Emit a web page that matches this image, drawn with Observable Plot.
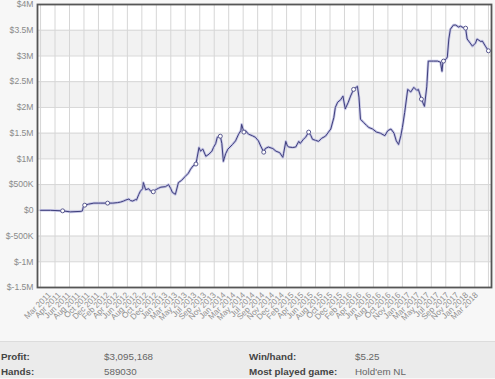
<!DOCTYPE html>
<html>
<head>
<meta charset="utf-8">
<script src="https://cdn.jsdelivr.net/npm/d3@7"></script>
<script src="https://cdn.jsdelivr.net/npm/@observablehq/plot@0.6"></script>
<style>
  html, body { margin: 0; padding: 0; background: #f7f7f7; }
  #chart { width: 495px; height: 341px; }
  #stats { width: 495px; height: 37px; background: #ebebeb; border-top: 1px solid #dcdcdc;
           box-sizing: border-box; padding-top: 7px; font-family: "Liberation Sans", Arial, sans-serif; font-size: 9.8px; }
  .row { position: relative; height: 15px; line-height: 15px; }
  .row span { position: absolute; top: 0; white-space: nowrap; }
  .k { font-weight: bold; color: #444; }
  .v { color: #666; }
</style>
</head>
<body>
<div id="chart"></div>
<div id="stats"></div>
<script>
// cumulative profit ($M) against hands played (thousands)
const hands = [0,13,29,39,53,55,56,58,63,70,79,88,95,101,105,109,112,116,118,121,125,126,129,131,134,135,138,142,144,148,151,155,158,164,168,171,173,177,181,185,190,194,197,200,204,208,210,213,217,221,225,227,230,232,236,238,240,243,246,250,252,256,260,263,264,267,269,273,278,282,286,289,293,295,299,305,309,314,318,319,322,324,326,331,335,339,341,345,348,352,355,357,361,365,369,374,378,381,385,387,390,394,397,400,404,407,411,416,418,420,424,428,431,436,441,446,452,456,460,464,467,470,473,475,478,482,486,490,494,496,500,504,507,509,516,521,525,527,528,529,533,534,536,538,542,545,549,551,555,558,560,564,567,571,573,578,580,584,588];
const profit = [0,0,-0.01,-0.03,-0.02,-0.01,0.06,0.1,0.12,0.14,0.14,0.14,0.14,0.15,0.16,0.18,0.2,0.22,0.19,0.18,0.21,0.2,0.31,0.37,0.42,0.54,0.4,0.42,0.38,0.36,0.4,0.43,0.45,0.46,0.5,0.42,0.35,0.31,0.54,0.58,0.66,0.72,0.8,0.86,0.9,1.22,1.15,1.19,1.05,1.09,1.15,1.22,1.3,1.42,1.44,1.3,0.95,1.1,1.19,1.25,1.28,1.35,1.48,1.55,1.67,1.52,1.55,1.48,1.45,1.42,1.35,1.25,1.13,1.2,1.23,1.2,1.15,1.12,1.03,1.1,1.34,1.25,1.23,1.22,1.23,1.34,1.3,1.38,1.42,1.52,1.45,1.38,1.36,1.34,1.4,1.44,1.52,1.58,1.8,2.0,2.1,2.15,2.22,1.97,2.1,2.22,2.35,2.41,2.2,1.77,1.71,1.65,1.61,1.58,1.52,1.5,1.45,1.55,1.58,1.5,1.35,1.28,1.45,1.61,1.9,2.35,2.3,2.39,2.33,2.35,2.16,2.02,2.4,2.9,2.9,2.9,2.88,2.7,2.85,2.9,2.95,2.98,3.33,3.52,3.6,3.6,3.56,3.58,3.55,3.54,3.33,3.25,3.19,3.25,3.33,3.28,3.29,3.19,3.1];
const markerHands = [29,58,88,148,204,236,267,293,352,411,500,529,558,588];
const dateLabels = ["Mar 2011","Apr 2011","Jun 2011","Aug 2011","Oct 2011","Dec 2011","Feb 2012","Apr 2012","Jun 2012","Aug 2012","Oct 2012","Dec 2012","Jan 2013","Mar 2013","May 2013","Jul 2013","Sep 2013","Nov 2013","Jan 2014","Mar 2014","May 2014","Jul 2014","Sep 2014","Nov 2014","Dec 2014","Feb 2015","Apr 2015","Jun 2015","Aug 2015","Oct 2015","Dec 2015","Feb 2016","Apr 2016","Jun 2016","Aug 2016","Oct 2016","Nov 2016","Jan 2017","Mar 2017","May 2017","Jul 2017","Sep 2017","Nov 2017","Jan 2018","Mar 2018"];
const yTicks = [4,3.5,3,2.5,2,1.5,1,0.5,0,-0.5,-1,-1.5];
const bandStarts = [3,2,1,0,-1];
const statKeys = [["Profit:","$3,095,168","Win/hand:","$5.25"],["Hands:","589030","Most played game:","Hold'em NL"]];

const data = hands.map((h, i) => ({hands: h, profit: profit[i]}));
const markers = data.filter(d => markerHands.includes(d.hands));
const xDomain = [-4, 592];
const gridStep = 19;
const xGrid = d3.range(0, 589, gridStep).concat([588]);
const labelStart = 14.4, labelStep = (575 - 14.4) / (dateLabels.length - 1);
const labelData = dateLabels.map((t, i) => ({x: labelStart + i * labelStep, t}));
const fmt = d => d === 0 ? "$0" : Math.abs(d) >= 1 ? `$${d}M` : `$${d * 1000}K`;

const chart = Plot.plot({
  width: 495, height: 341,
  marginLeft: 37, marginRight: 4, marginTop: 4, marginBottom: 54,
  style: {fontFamily: "Liberation Sans, Arial, sans-serif", background: "#f7f7f7"},
  x: {domain: xDomain, axis: null},
  y: {domain: [-1.5, 4], axis: null},
  marks: [
    Plot.rect([0], {x1: xDomain[0], x2: xDomain[1], y1: -1.5, y2: 4, fill: "#ffffff"}),
    Plot.rect(bandStarts, {x1: xDomain[0], x2: xDomain[1], y1: d => d, y2: d => d + 0.5, fill: "#f2f2f2"}),
    Plot.ruleY(yTicks, {stroke: "#d6d6d6", strokeWidth: 1}),
    Plot.ruleX(xGrid, {stroke: "#d6d6d6", strokeWidth: 1}),
    Plot.line(data, {x: "hands", y: "profit", stroke: "#c4c4e4", strokeWidth: 2.6, strokeLinejoin: "round"}),
    Plot.line(data, {x: "hands", y: "profit", stroke: "#3e3e7c", strokeWidth: 1, strokeLinejoin: "round"}),
    Plot.dot(markers, {x: "hands", y: "profit", r: 2, fill: "#ffffff", stroke: "#5a5a90", strokeWidth: 1}),
    Plot.frame({stroke: "#555", strokeWidth: 1.8}),
    Plot.text(yTicks, {x: xDomain[0], y: d => d, text: fmt, textAnchor: "end", dx: -4, fontSize: 8.6, fill: "#8a8a8a"}),
    Plot.text(labelData, {x: "x", text: "t", frameAnchor: "bottom", rotate: -45, textAnchor: "end", dy: 8, fontSize: 8.2, fill: "#8f8f8f"})
  ]
});
document.getElementById("chart").append(chart);

const stats = document.getElementById("stats");
const lefts = [1, 104, 249, 355];
statKeys.forEach(row => {
  const r = document.createElement("div");
  r.className = "row";
  row.forEach((t, j) => {
    const s = document.createElement("span");
    s.className = j % 2 === 0 ? "k" : "v";
    s.style.left = lefts[j] + "px";
    s.textContent = t;
    r.append(s);
  });
  stats.append(r);
});
</script>
</body>
</html>
